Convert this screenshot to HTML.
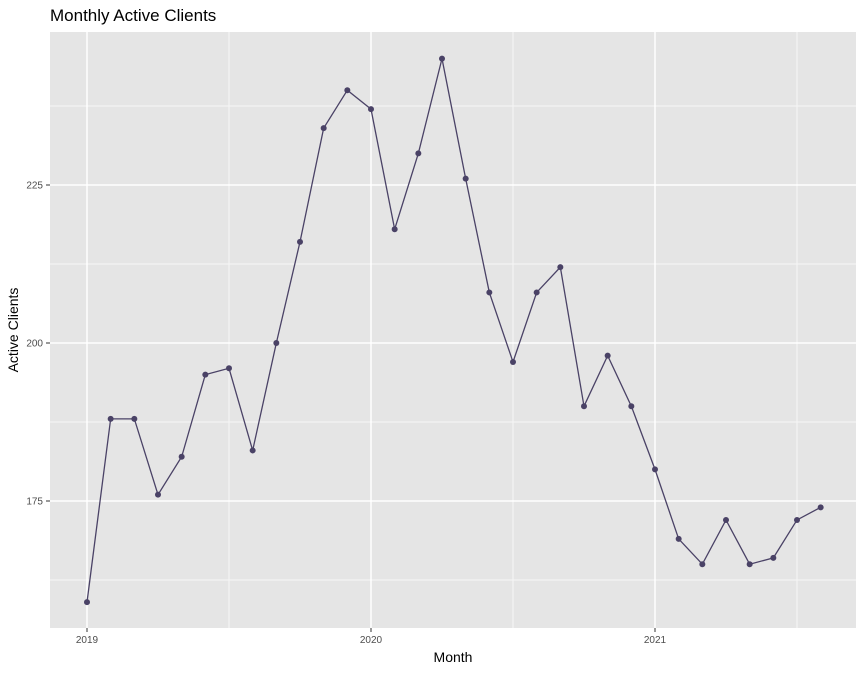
<!DOCTYPE html>
<html><head><meta charset="utf-8"><style>
body{margin:0;background:#fff;font-family:"Liberation Sans",Arial,sans-serif}
</style></head><body>
<svg id="chart" width="864" height="672" xmlns="http://www.w3.org/2000/svg">
<text x="50" y="21" font-size="17" fill="#000">Monthly Active Clients</text>
<rect x="50" y="32" width="806" height="596" fill="#e5e5e5"/>
<g id="grid"></g>
<g id="axes"></g>
<g id="series"></g>
<text x="453" y="662" font-size="14" text-anchor="middle">Month</text>
<text transform="translate(18,330) rotate(-90)" font-size="14" text-anchor="middle">Active Clients</text>
</svg>
<script>
const months = ["2019-01","2019-02","2019-03","2019-04","2019-05","2019-06","2019-07","2019-08","2019-09","2019-10","2019-11","2019-12","2020-01","2020-02","2020-03","2020-04","2020-05","2020-06","2020-07","2020-08","2020-09","2020-10","2020-11","2020-12","2021-01","2021-02","2021-03","2021-04","2021-05","2021-06","2021-07","2021-08"];
const clients = [159,188,188,176,182,195,196,183,200,216,234,240,237,218,230,245,226,208,197,208,212,190,198,190,180,169,165,172,165,166,172,174];
const yTicks = [175,200,225];
const yMinor = [162.5,187.5,212.5,237.5];
const xTicks = ["2019","2020","2021"];
const xMinorYears = [2019.5,2020.5,2021.5];

const NS="http://www.w3.org/2000/svg";
function X(t){return 87+(t-2019)*284;}
function monthT(m){const [y,mo]=m.split("-").map(Number);return y+(mo-1)/12;}
function Y(v){return 343-(v-200)*6.32;}
function mk(tag,attrs,parent){const e=document.createElementNS(NS,tag);for(const k in attrs)e.setAttribute(k,attrs[k]);parent.appendChild(e);return e;}
const grid=document.getElementById("grid"),axes=document.getElementById("axes"),series=document.getElementById("series");
yMinor.forEach(v=>{const l=mk("line",{x1:50,x2:856,y1:Y(v),y2:Y(v),stroke:"#f7f7f7","stroke-width":1},grid);

});
xMinorYears.forEach(t=>{const l=mk("line",{x1:X(t),x2:X(t),y1:32,y2:628,stroke:"#f7f7f7","stroke-width":1},grid);

});
yTicks.forEach(v=>{const l=mk("line",{x1:50,x2:856,y1:Y(v),y2:Y(v),stroke:"#fff","stroke-width":1.5},grid);


mk("line",{x1:46,x2:50,y1:Y(v),y2:Y(v),stroke:"#333"},axes);
const t=mk("text",{x:43,y:Y(v)+3.5,"font-size":10,fill:"#4d4d4d","text-anchor":"end"},axes);t.textContent=v;

});
xTicks.forEach(s=>{const x=X(Number(s));const l=mk("line",{x1:x,x2:x,y1:32,y2:628,stroke:"#fff","stroke-width":1.5},grid);


mk("line",{x1:x,x2:x,y1:628,y2:632,stroke:"#333"},axes);
const t=mk("text",{x:x,y:643,"font-size":10,fill:"#4d4d4d","text-anchor":"middle"},axes);t.textContent=s;

});
const pts=months.map((m,i)=>[X(monthT(m)),Y(clients[i])]);
const line=mk("polyline",{points:pts.map(p=>p.join(",")).join(" "),fill:"none",stroke:"#4a4266","stroke-width":1.3},series);


pts.forEach(p=>{const c=mk("circle",{cx:p[0],cy:p[1],r:3,fill:"#4a4266"},series);

});
</script>
</body></html>
